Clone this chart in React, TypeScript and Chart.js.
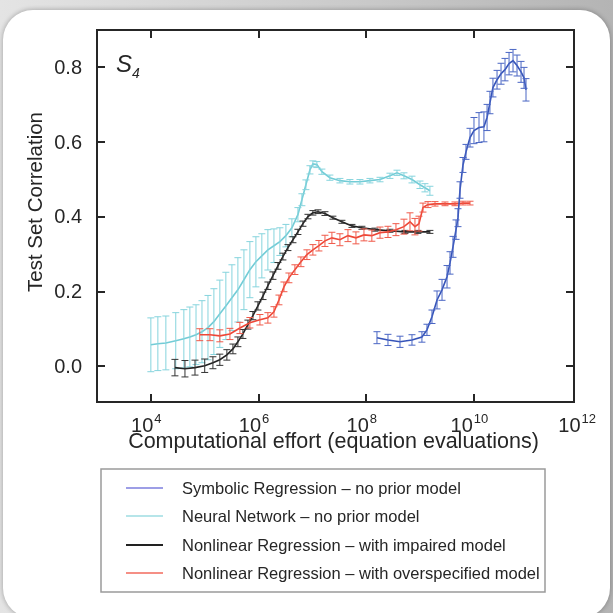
import React, { useEffect, useRef } from "react";
import { Chart, registerables } from "chart.js";

Chart.register(...registerables);

// ---- data: computational effort (equation evaluations) vs. test-set correlation ----

const symbolicX = [1.58e8, 2.53e8, 4.23e8, 7.06e8, 1.08e9, 1.34e9, 1.66e9, 2.06e9, 2.55e9, 3.16e9, 3.59e9, 4.08e9, 4.64e9, 5.05e9, 5.5e9, 6.25e9, 7.11e9, 8.44e9, 1.0e10, 1.24e10, 1.53e10, 1.75e10, 1.98e10, 2.25e10, 2.68e10, 3.18e10, 3.77e10, 4.48e10, 5.31e10, 6.3e10, 7.48e10, 8.5e10, 9.25e10];
const symbolicY = [0.077, 0.071, 0.066, 0.071, 0.079, 0.098, 0.133, 0.178, 0.205, 0.24, 0.277, 0.32, 0.366, 0.398, 0.472, 0.539, 0.574, 0.612, 0.631, 0.639, 0.641, 0.666, 0.706, 0.746, 0.767, 0.783, 0.794, 0.81, 0.818, 0.805, 0.788, 0.772, 0.74];
const symbolicErr = [0.016, 0.015, 0.015, 0.014, 0.014, 0.015, 0.018, 0.024, 0.028, 0.03, 0.03, 0.028, 0.026, 0.024, 0.022, 0.02, 0.02, 0.025, 0.035, 0.04, 0.04, 0.035, 0.03, 0.025, 0.025, 0.028, 0.03, 0.03, 0.03, 0.028, 0.028, 0.028, 0.03];

const neuralX = [1.0e4, 1.35e4, 1.9e4, 2.9e4, 4.1e4, 5.3e4, 6.9e4, 8.9e4, 1.15e5, 1.48e5, 1.91e5, 2.47e5, 3.2e5, 4.13e5, 5.35e5, 6.9e5, 8.93e5, 1.15e6, 1.49e6, 1.93e6, 2.49e6, 3.22e6, 4.16e6, 5.38e6, 6.38e6, 7.57e6, 9.0e6, 1.02e7, 1.21e7, 1.5e7, 2.11e7, 3.24e7, 4.97e7, 7.63e7, 1.17e8, 1.8e8, 2.75e8, 3.72e8, 5.01e8, 7.06e8, 9.94e8, 1.23e9, 1.52e9];
const neuralY = [0.058, 0.061, 0.063, 0.069, 0.074, 0.079, 0.085, 0.093, 0.104, 0.12, 0.141, 0.162, 0.184, 0.205, 0.232, 0.259, 0.28, 0.296, 0.312, 0.323, 0.334, 0.35, 0.371, 0.406, 0.446, 0.486, 0.526, 0.542, 0.54, 0.521, 0.505, 0.497, 0.494, 0.494, 0.497, 0.5, 0.51, 0.518, 0.51, 0.5, 0.486, 0.478, 0.47];
const neuralErr = [0.072, 0.072, 0.072, 0.075, 0.078, 0.08, 0.08, 0.083, 0.086, 0.088, 0.09, 0.09, 0.088, 0.086, 0.08, 0.075, 0.067, 0.059, 0.054, 0.045, 0.037, 0.03, 0.024, 0.019, 0.016, 0.013, 0.011, 0.008, 0.008, 0.007, 0.007, 0.006, 0.006, 0.006, 0.006, 0.006, 0.007, 0.007, 0.008, 0.009, 0.01, 0.011, 0.012];

const impairedX = [2.8e4, 4.3e4, 6.6e4, 1.0e5, 1.42e5, 1.91e5, 2.58e5, 3.34e5, 4.13e5, 5.12e5, 6.34e5, 7.85e5, 9.73e5, 1.21e6, 1.49e6, 1.85e6, 2.29e6, 2.83e6, 3.51e6, 4.35e6, 5.38e6, 6.67e6, 8.26e6, 1.02e7, 1.27e7, 1.71e7, 2.4e7, 3.53e7, 5.42e7, 8.3e7, 1.45e8, 2.75e8, 5.23e8, 9.1e8, 1.52e9];
const impairedY = [-0.003, -0.006, -0.003, 0.002, 0.01, 0.018, 0.031, 0.047, 0.066, 0.087, 0.112, 0.136, 0.162, 0.189, 0.216, 0.243, 0.269, 0.294, 0.318, 0.339, 0.36, 0.382, 0.401, 0.411, 0.414, 0.409, 0.398, 0.387, 0.376, 0.371, 0.366, 0.363, 0.36, 0.36, 0.36];
const impairedErr = [0.022, 0.022, 0.02, 0.018, 0.016, 0.015, 0.014, 0.013, 0.013, 0.012, 0.012, 0.011, 0.011, 0.01, 0.01, 0.01, 0.009, 0.009, 0.008, 0.008, 0.007, 0.007, 0.006, 0.006, 0.005, 0.005, 0.004, 0.004, 0.004, 0.004, 0.004, 0.004, 0.004, 0.004, 0.004];

const overspecX = [8.1e4, 1.25e5, 1.91e5, 2.94e5, 4.5e5, 6.9e5, 1.06e6, 1.49e6, 1.93e6, 2.39e6, 2.96e6, 3.66e6, 4.73e6, 6.12e6, 7.91e6, 1.02e7, 1.32e7, 1.71e7, 2.3e7, 3.24e7, 4.57e7, 6.43e7, 9.06e7, 1.27e8, 1.8e8, 2.53e8, 3.56e8, 5.01e8, 6.48e8, 8.02e8, 9.52e8, 1.13e9, 1.4e9, 1.89e9, 2.9e9, 4.44e9, 6.25e9, 8.44e9];
const overspecY = [0.085, 0.085, 0.082, 0.087, 0.103, 0.117, 0.125, 0.13, 0.146, 0.178, 0.213, 0.237, 0.259, 0.28, 0.299, 0.312, 0.323, 0.336, 0.344, 0.339, 0.35, 0.344, 0.352, 0.35, 0.358, 0.36, 0.366, 0.374, 0.387, 0.374, 0.382, 0.425, 0.433, 0.435, 0.435, 0.435, 0.437, 0.437];
const overspecErr = [0.016, 0.016, 0.016, 0.015, 0.015, 0.014, 0.014, 0.014, 0.014, 0.013, 0.013, 0.013, 0.013, 0.013, 0.013, 0.014, 0.014, 0.015, 0.015, 0.016, 0.016, 0.016, 0.016, 0.015, 0.015, 0.015, 0.016, 0.02, 0.024, 0.022, 0.02, 0.012, 0.008, 0.006, 0.005, 0.005, 0.005, 0.005];

const seriesLabels = [
  "Symbolic Regression – no prior model",
  "Neural Network – no prior model",
  "Nonlinear Regression – with impaired model",
  "Nonlinear Regression – with overspecified model",
];
const lineColors = ["#3553b8", "#72ccd6", "#222222", "#ee4636"];
const barColors = ["#4a66c4", "#86d4dd", "#333333", "#f05a4a"];
const legendColors = ["#7c7ede", "#9edde2", "#222222", "#f26a5c"];

const yTicks = [0.0, 0.2, 0.4, 0.6, 0.8];
const xTickExponents = [4, 6, 8, 10, 12];

const xTitle = "Computational effort (equation evaluations)";
const yTitle = "Test Set Correlation";
const panelLabel = "S";
const panelSub = "4";

const FONT = "'Liberation Sans', Arial, Helvetica, sans-serif";
const TEXT = "#262626";

function points(xs: number[], ys: number[]) {
  return xs.map((x, i) => ({ x, y: ys[i] }));
}

const errorSets = [symbolicErr, neuralErr, impairedErr, overspecErr];

// vertical error bars with caps, drawn right after each line
const errorBarPlugin = {
  id: "errorBars",
  afterDatasetDraw(chart: any, args: any) {
    const i = args.index;
    const errs = errorSets[i];
    if (!errs) return;
    const { ctx, scales } = chart;
    const ds = chart.data.datasets[i];
    const meta = chart.getDatasetMeta(i);
    ctx.save();
    ctx.strokeStyle = barColors[i];
    ctx.lineWidth = 1;
    const cap = 3.5;
    meta.data.forEach((el: any, j: number) => {
      const v = ds.data[j].y;
      const e = errs[j];
      const x = el.x;
      const yt = scales.y.getPixelForValue(v + e);
      const yb = scales.y.getPixelForValue(v - e);
      ctx.beginPath();
      ctx.moveTo(x, yt);
      ctx.lineTo(x, yb);
      ctx.moveTo(x - cap, yt);
      ctx.lineTo(x + cap, yt);
      ctx.moveTo(x - cap, yb);
      ctx.lineTo(x + cap, yb);
      ctx.stroke();
    });
    ctx.restore();
  },
};

// boxed axes with inward ticks, tick labels, titles and legend
const framePlugin = {
  id: "frame",
  afterDraw(chart: any) {
    const { ctx, chartArea: a, scales } = chart;
    const xs = scales.x;
    const ys = scales.y;
    ctx.save();
    ctx.strokeStyle = "#262626";
    ctx.lineWidth = 2;
    ctx.strokeRect(a.left, a.top, a.right - a.left, a.bottom - a.top);

    const tl = 8;
    ctx.beginPath();
    for (const e of xTickExponents) {
      const px = Math.round(xs.getPixelForValue(Math.pow(10, e)));
      if (px < a.right - 2) {
        ctx.moveTo(px, a.bottom);
        ctx.lineTo(px, a.bottom - tl);
        ctx.moveTo(px, a.top);
        ctx.lineTo(px, a.top + tl);
      }
    }
    for (const t of yTicks) {
      const py = Math.round(ys.getPixelForValue(t));
      ctx.moveTo(a.left, py);
      ctx.lineTo(a.left + tl, py);
      ctx.moveTo(a.right, py);
      ctx.lineTo(a.right - tl, py);
    }
    ctx.stroke();

    ctx.fillStyle = TEXT;
    // y tick labels
    ctx.font = `20px ${FONT}`;
    ctx.textAlign = "right";
    ctx.textBaseline = "middle";
    for (const t of yTicks) {
      ctx.fillText(t.toFixed(1), a.left - 15, ys.getPixelForValue(t) + 1);
    }

    // x tick labels as powers of ten
    ctx.textAlign = "left";
    ctx.textBaseline = "alphabetic";
    for (const e of xTickExponents) {
      const px = xs.getPixelForValue(Math.pow(10, e));
      ctx.font = `20px ${FONT}`;
      const wb = ctx.measureText("10").width;
      ctx.font = `13px ${FONT}`;
      const we = ctx.measureText(String(e)).width;
      const x0 = px - 5 - (wb + we) / 2;
      ctx.font = `20px ${FONT}`;
      ctx.fillText("10", x0, a.bottom + 30);
      ctx.font = `13px ${FONT}`;
      ctx.fillText(String(e), x0 + wb + 1, a.bottom + 21);
    }

    // axis titles
    ctx.font = `21.5px ${FONT}`;
    ctx.textAlign = "center";
    ctx.fillText(xTitle, (a.left + a.right) / 2 - 2, a.bottom + 46);
    ctx.save();
    ctx.translate(42, 202);
    ctx.rotate(-Math.PI / 2);
    ctx.font = `20.5px ${FONT}`;
    ctx.textBaseline = "alphabetic";
    ctx.fillText(yTitle, 0, 0);
    ctx.restore();

    // panel label
    ctx.textAlign = "left";
    ctx.font = `italic 24px ${FONT}`;
    ctx.fillText(panelLabel, a.left + 19, a.top + 42);
    const ws = ctx.measureText(panelLabel).width;
    ctx.font = `italic 14px ${FONT}`;
    ctx.fillText(panelSub, a.left + 19 + ws, a.top + 48);

    // legend box
    const lx = 101, ly = 469, lw = 444, lh = 123;
    ctx.strokeStyle = "#9a9a9a";
    ctx.lineWidth = 1.5;
    ctx.strokeRect(lx, ly, lw, lh);
    ctx.font = `16.5px ${FONT}`;
    ctx.textBaseline = "middle";
    const rows = [488, 516, 545, 573];
    seriesLabels.forEach((lab, i) => {
      ctx.strokeStyle = legendColors[i];
      ctx.lineWidth = i === 2 ? 2 : 1.5;
      ctx.beginPath();
      ctx.moveTo(126, rows[i]);
      ctx.lineTo(163, rows[i]);
      ctx.stroke();
      ctx.fillStyle = TEXT;
      ctx.fillText(lab, 182, rows[i] + 1);
    });
    ctx.restore();
  },
};

export default function App() {
  const ref = useRef<HTMLCanvasElement>(null);

  useEffect(() => {
    if (!ref.current) return;
    const seriesData = [
      points(symbolicX, symbolicY),
      points(neuralX, neuralY),
      points(impairedX, impairedY),
      points(overspecX, overspecY),
    ];
    const drawOrder = [0, 3, 2, 1];
    const chart = new Chart(ref.current, {
      type: "line",
      data: {
        datasets: seriesData.map((d, i) => ({
          label: seriesLabels[i],
          data: d,
          borderColor: lineColors[i],
          backgroundColor: lineColors[i],
          borderWidth: 1.6,
          pointRadius: 0,
          tension: 0,
          fill: false,
          order: drawOrder[i],
        })),
      },
      options: {
        responsive: false,
        animation: false,
        devicePixelRatio: 1,
        events: [],
        layout: { padding: { left: 97, right: 39, top: 30, bottom: 211 } },
        scales: {
          x: { type: "logarithmic", min: 1e3, max: 7.2e11, display: false },
          y: { type: "linear", min: -0.095, max: 0.9, display: false },
        },
        plugins: {
          legend: { display: false },
          tooltip: { enabled: false },
        },
      },
      plugins: [errorBarPlugin, framePlugin],
    } as any);
    return () => chart.destroy();
  }, []);

  return (
    <div
      style={{
        position: "fixed",
        left: 0,
        top: 0,
        width: 613,
        height: 613,
        overflow: "hidden",
        background: "linear-gradient(90deg, #e4e4e4 0%, #c9c9c9 60%, #b4b4b4 100%)",
      }}
    >
      <div
        style={{
          position: "absolute",
          left: 3,
          top: 10,
          width: 607,
          height: 608,
          background: "#ffffff",
          borderRadius: 30,
          boxShadow: "0 0 4px 1px rgba(0,0,0,0.22)",
        }}
      />
      <canvas
        ref={ref}
        width={613}
        height={613}
        style={{ position: "absolute", left: 0, top: 0, width: 613, height: 613 }}
      />
    </div>
  );
}
